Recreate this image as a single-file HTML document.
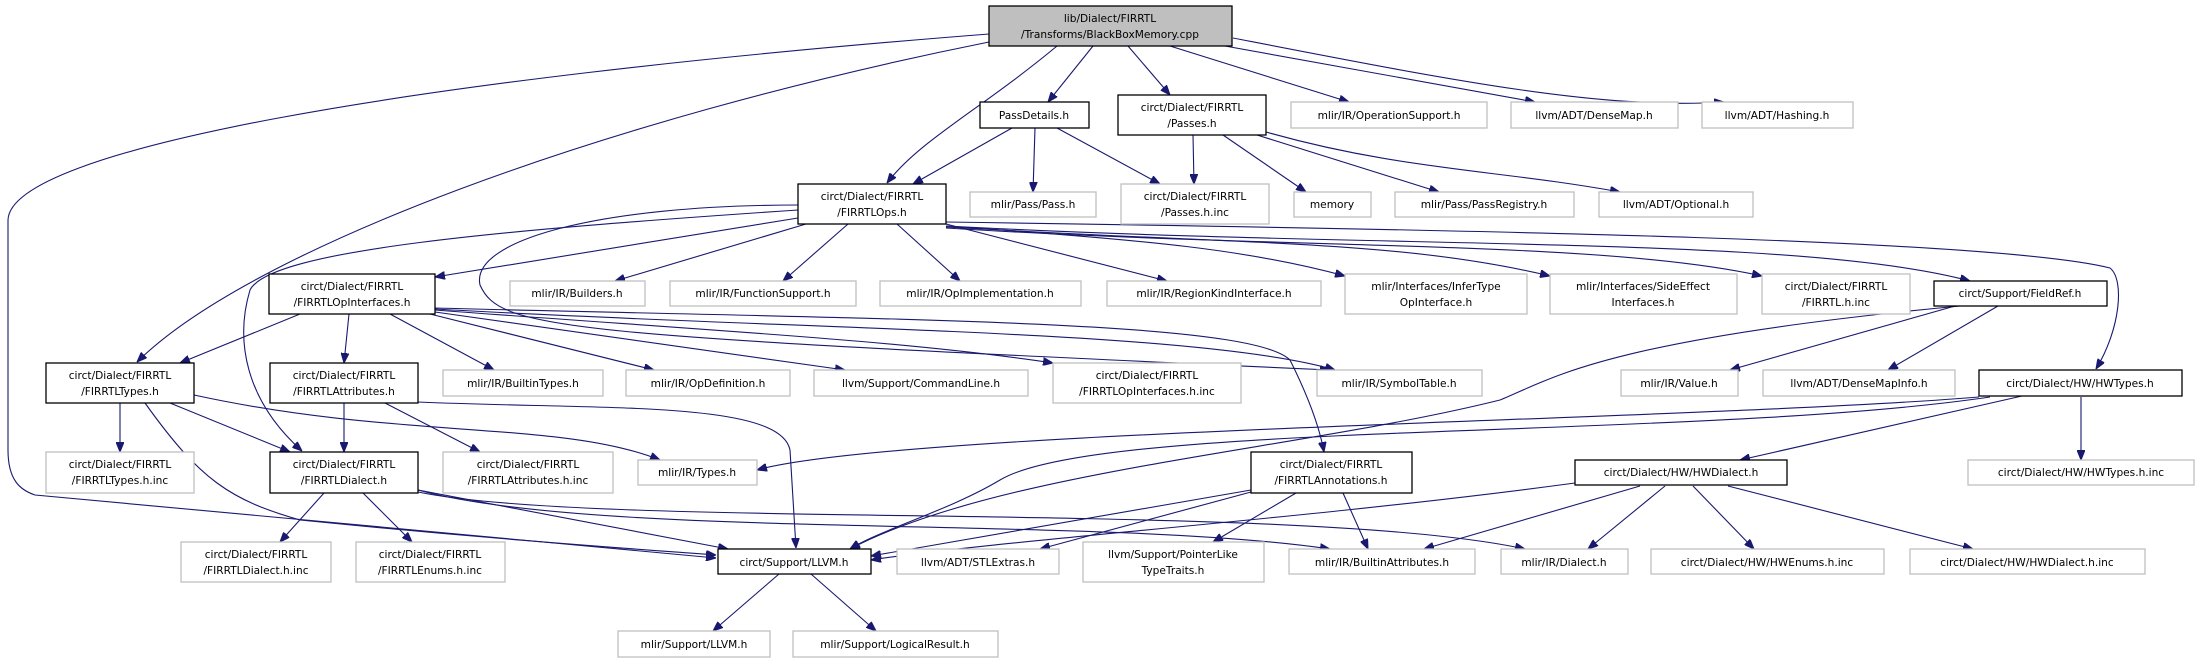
<!DOCTYPE html>
<html><head><meta charset="utf-8"><style>
html,body{margin:0;padding:0;background:#fff;}
svg{display:block;}
text{font-family:"DejaVu Sans","Liberation Sans",sans-serif;font-size:10.6px;fill:#000;}
.e{fill:none;stroke:#191970;stroke-width:1.1;}
.b{fill:#fff;stroke:#000;stroke-width:1.3;}
.g{fill:#fff;stroke:#bfbfbf;stroke-width:1.3;}
</style></head><body>
<svg width="2198" height="663" viewBox="0 0 2198 663" xmlns="http://www.w3.org/2000/svg">
<defs><marker id="a" viewBox="0 0 10 8" refX="10" refY="4" markerWidth="10" markerHeight="8" markerUnits="userSpaceOnUse" orient="auto"><path d="M0,0 L10,4 L0,8 z" fill="#191970" stroke="#191970"/></marker></defs>
<g marker-end="url(#a)">
<path class="e" d="M989,34 C400,80 10,150 8,220 L8,450 C8,480 20,490 35,495 L716,558"/>
<path class="e" d="M989,42 C600,120 250,250 137,362"/>
<path class="e" d="M1057,46 C980,110 920,140 887,183"/>
<path class="e" d="M1093,46 L1048,102"/>
<path class="e" d="M1128,46 L1170,95"/>
<path class="e" d="M1170,46 L1349,102"/>
<path class="e" d="M1225,46 L1535,102"/>
<path class="e" d="M1233,38 C1450,80 1600,110 1724,102"/>
<path class="e" d="M1012,128 L913,184"/>
<path class="e" d="M1035,128 L1033,192"/>
<path class="e" d="M1057,128 L1160,184"/>
<path class="e" d="M1193,135 L1194,184"/>
<path class="e" d="M1223,135 L1306,192"/>
<path class="e" d="M1257,135 L1439,192"/>
<path class="e" d="M1266,132 C1400,170 1500,170 1620,192"/>
<path class="e" d="M798,218 L435,277"/>
<path class="e" d="M806,224 L615,281"/>
<path class="e" d="M848,224 L783,281"/>
<path class="e" d="M897,224 L960,281"/>
<path class="e" d="M946,224 L1167,281"/>
<path class="e" d="M946,226 C1150,240 1250,250 1345,276"/>
<path class="e" d="M946,227 C1250,245 1400,240 1550,276"/>
<path class="e" d="M946,228 C1300,250 1600,240 1762,276"/>
<path class="e" d="M946,226 C1400,250 1800,235 1970,281"/>
<path class="e" d="M946,222 C1500,230 2000,240 2110,268 C2125,280 2120,330 2096,369"/>
<path class="e" d="M798,210 C500,230 270,250 250,290 C235,340 245,400 302,451"/>
<path class="e" d="M798,205 C600,205 470,240 480,285 C500,330 560,335 1330,370"/>
<path class="e" d="M435,308 C900,320 1250,320 1290,360 C1310,400 1320,430 1324,452"/>
<path class="e" d="M300,314 L180,363"/>
<path class="e" d="M349,314 L344,363"/>
<path class="e" d="M390,314 L494,370"/>
<path class="e" d="M430,314 L654,370"/>
<path class="e" d="M435,312 L845,370"/>
<path class="e" d="M435,310 C700,330 900,340 1053,363"/>
<path class="e" d="M435,309 C800,330 1200,330 1335,370"/>
<path class="e" d="M120,403 L120,452"/>
<path class="e" d="M170,403 L290,452"/>
<path class="e" d="M194,395 C400,440 560,420 660,460"/>
<path class="e" d="M145,403 C200,480 230,500 300,520 C500,540 650,550 716,555"/>
<path class="e" d="M344,403 L344,452"/>
<path class="e" d="M385,403 L480,452"/>
<path class="e" d="M418,402 C600,410 780,400 790,450 L796,548"/>
<path class="e" d="M324,493 L280,542"/>
<path class="e" d="M363,493 L412,542"/>
<path class="e" d="M418,490 L728,549"/>
<path class="e" d="M418,490 C600,540 1100,515 1330,549"/>
<path class="e" d="M418,492 C600,530 1300,500 1525,549"/>
<path class="e" d="M1979,397 C1700,420 900,430 757,470"/>
<path class="e" d="M1990,397 C1700,440 1100,420 1000,480 C950,510 880,530 850,549"/>
<path class="e" d="M1960,306 C1600,340 1550,380 1500,400 C1300,450 1000,470 850,549"/>
<path class="e" d="M1955,306 L1730,370"/>
<path class="e" d="M1998,306 L1888,370"/>
<path class="e" d="M2022,396 L1740,460"/>
<path class="e" d="M2081,397 L2081,460"/>
<path class="e" d="M1251,490 L871,556"/>
<path class="e" d="M1251,492 L1040,549"/>
<path class="e" d="M1296,493 L1213,542"/>
<path class="e" d="M1343,493 L1368,549"/>
<path class="e" d="M1575,483 C1300,520 1000,540 871,560"/>
<path class="e" d="M1640,486 L1424,549"/>
<path class="e" d="M1665,486 L1588,549"/>
<path class="e" d="M1693,486 L1754,549"/>
<path class="e" d="M1728,486 L1973,549"/>
<path class="e" d="M779,574 L713,631"/>
<path class="e" d="M811,574 L876,631"/>
</g>
<g text-anchor="middle">
<rect x="989" y="6" width="243" height="40" fill="#bfbfbf" stroke="#000" stroke-width="1.3"/>
<text x="1110" y="22">lib/Dialect/FIRRTL</text><text x="1110" y="38">/Transforms/BlackBoxMemory.cpp</text>
<rect class="b" x="980" y="102" width="109" height="26"/><text x="1034" y="119">PassDetails.h</text>
<rect class="b" x="1118" y="95" width="148" height="40"/><text x="1192" y="111">circt/Dialect/FIRRTL</text><text x="1192" y="127">/Passes.h</text>
<rect class="g" x="1291" y="102" width="196" height="26"/><text x="1389" y="119">mlir/IR/OperationSupport.h</text>
<rect class="g" x="1511" y="102" width="167" height="26"/><text x="1594" y="119">llvm/ADT/DenseMap.h</text>
<rect class="g" x="1702" y="102" width="151" height="26"/><text x="1777" y="119">llvm/ADT/Hashing.h</text>
<rect class="b" x="798" y="184" width="148" height="40"/><text x="872" y="200">circt/Dialect/FIRRTL</text><text x="872" y="216">/FIRRTLOps.h</text>
<rect class="g" x="970" y="192" width="126" height="25"/><text x="1033" y="208">mlir/Pass/Pass.h</text>
<rect class="g" x="1121" y="184" width="148" height="40"/><text x="1195" y="200">circt/Dialect/FIRRTL</text><text x="1195" y="216">/Passes.h.inc</text>
<rect class="g" x="1294" y="192" width="77" height="25"/><text x="1332" y="208">memory</text>
<rect class="g" x="1395" y="192" width="179" height="25"/><text x="1484" y="208">mlir/Pass/PassRegistry.h</text>
<rect class="g" x="1599" y="192" width="154" height="25"/><text x="1676" y="208">llvm/ADT/Optional.h</text>
<rect class="b" x="269" y="274" width="166" height="40"/><text x="352" y="290">circt/Dialect/FIRRTL</text><text x="352" y="306">/FIRRTLOpInterfaces.h</text>
<rect class="g" x="510" y="281" width="135" height="25"/><text x="577" y="297">mlir/IR/Builders.h</text>
<rect class="g" x="670" y="281" width="186" height="25"/><text x="763" y="297">mlir/IR/FunctionSupport.h</text>
<rect class="g" x="880" y="281" width="201" height="25"/><text x="980" y="297">mlir/IR/OpImplementation.h</text>
<rect class="g" x="1107" y="281" width="214" height="25"/><text x="1214" y="297">mlir/IR/RegionKindInterface.h</text>
<rect class="g" x="1345" y="274" width="182" height="40"/><text x="1436" y="290">mlir/Interfaces/InferType</text><text x="1436" y="306">OpInterface.h</text>
<rect class="g" x="1550" y="274" width="187" height="40"/><text x="1643" y="290">mlir/Interfaces/SideEffect</text><text x="1643" y="306">Interfaces.h</text>
<rect class="g" x="1762" y="274" width="148" height="40"/><text x="1836" y="290">circt/Dialect/FIRRTL</text><text x="1836" y="306">/FIRRTL.h.inc</text>
<rect class="b" x="1934" y="281" width="173" height="25"/><text x="2020" y="297">circt/Support/FieldRef.h</text>
<rect class="b" x="46" y="363" width="148" height="40"/><text x="120" y="379">circt/Dialect/FIRRTL</text><text x="120" y="395">/FIRRTLTypes.h</text>
<rect class="b" x="270" y="363" width="148" height="40"/><text x="344" y="379">circt/Dialect/FIRRTL</text><text x="344" y="395">/FIRRTLAttributes.h</text>
<rect class="g" x="443" y="370" width="160" height="26"/><text x="523" y="387">mlir/IR/BuiltinTypes.h</text>
<rect class="g" x="626" y="370" width="164" height="26"/><text x="708" y="387">mlir/IR/OpDefinition.h</text>
<rect class="g" x="814" y="370" width="214" height="26"/><text x="921" y="387">llvm/Support/CommandLine.h</text>
<rect class="g" x="1053" y="363" width="188" height="40"/><text x="1147" y="379">circt/Dialect/FIRRTL</text><text x="1147" y="395">/FIRRTLOpInterfaces.h.inc</text>
<rect class="g" x="1317" y="370" width="165" height="26"/><text x="1399" y="387">mlir/IR/SymbolTable.h</text>
<rect class="g" x="1621" y="370" width="117" height="26"/><text x="1679" y="387">mlir/IR/Value.h</text>
<rect class="g" x="1763" y="370" width="192" height="26"/><text x="1859" y="387">llvm/ADT/DenseMapInfo.h</text>
<rect class="b" x="1979" y="370" width="203" height="26"/><text x="2080" y="387">circt/Dialect/HW/HWTypes.h</text>
<rect class="g" x="46" y="452" width="148" height="41"/><text x="120" y="468">circt/Dialect/FIRRTL</text><text x="120" y="484">/FIRRTLTypes.h.inc</text>
<rect class="b" x="270" y="452" width="148" height="41"/><text x="344" y="468">circt/Dialect/FIRRTL</text><text x="344" y="484">/FIRRTLDialect.h</text>
<rect class="g" x="443" y="452" width="170" height="41"/><text x="528" y="468">circt/Dialect/FIRRTL</text><text x="528" y="484">/FIRRTLAttributes.h.inc</text>
<rect class="g" x="638" y="460" width="119" height="25"/><text x="697" y="476">mlir/IR/Types.h</text>
<rect class="b" x="1251" y="452" width="161" height="41"/><text x="1331" y="468">circt/Dialect/FIRRTL</text><text x="1331" y="484">/FIRRTLAnnotations.h</text>
<rect class="b" x="1575" y="460" width="212" height="25"/><text x="1681" y="476">circt/Dialect/HW/HWDialect.h</text>
<rect class="g" x="1968" y="460" width="226" height="25"/><text x="2081" y="476">circt/Dialect/HW/HWTypes.h.inc</text>
<rect class="g" x="181" y="542" width="150" height="40"/><text x="256" y="558">circt/Dialect/FIRRTL</text><text x="256" y="574">/FIRRTLDialect.h.inc</text>
<rect class="g" x="356" y="542" width="149" height="40"/><text x="430" y="558">circt/Dialect/FIRRTL</text><text x="430" y="574">/FIRRTLEnums.h.inc</text>
<rect class="b" x="718" y="549" width="153" height="25"/><text x="794" y="566">circt/Support/LLVM.h</text>
<rect class="g" x="897" y="549" width="162" height="25"/><text x="978" y="566">llvm/ADT/STLExtras.h</text>
<rect class="g" x="1083" y="542" width="181" height="40"/><text x="1173" y="558">llvm/Support/PointerLike</text><text x="1173" y="574">TypeTraits.h</text>
<rect class="g" x="1289" y="549" width="186" height="25"/><text x="1382" y="566">mlir/IR/BuiltinAttributes.h</text>
<rect class="g" x="1501" y="549" width="127" height="25"/><text x="1564" y="566">mlir/IR/Dialect.h</text>
<rect class="g" x="1651" y="549" width="233" height="25"/><text x="1767" y="566">circt/Dialect/HW/HWEnums.h.inc</text>
<rect class="g" x="1910" y="549" width="235" height="25"/><text x="2027" y="566">circt/Dialect/HW/HWDialect.h.inc</text>
<rect class="g" x="618" y="631" width="152" height="26"/><text x="694" y="648">mlir/Support/LLVM.h</text>
<rect class="g" x="793" y="631" width="205" height="26"/><text x="895" y="648">mlir/Support/LogicalResult.h</text>
</g>
</svg>
</body></html>
